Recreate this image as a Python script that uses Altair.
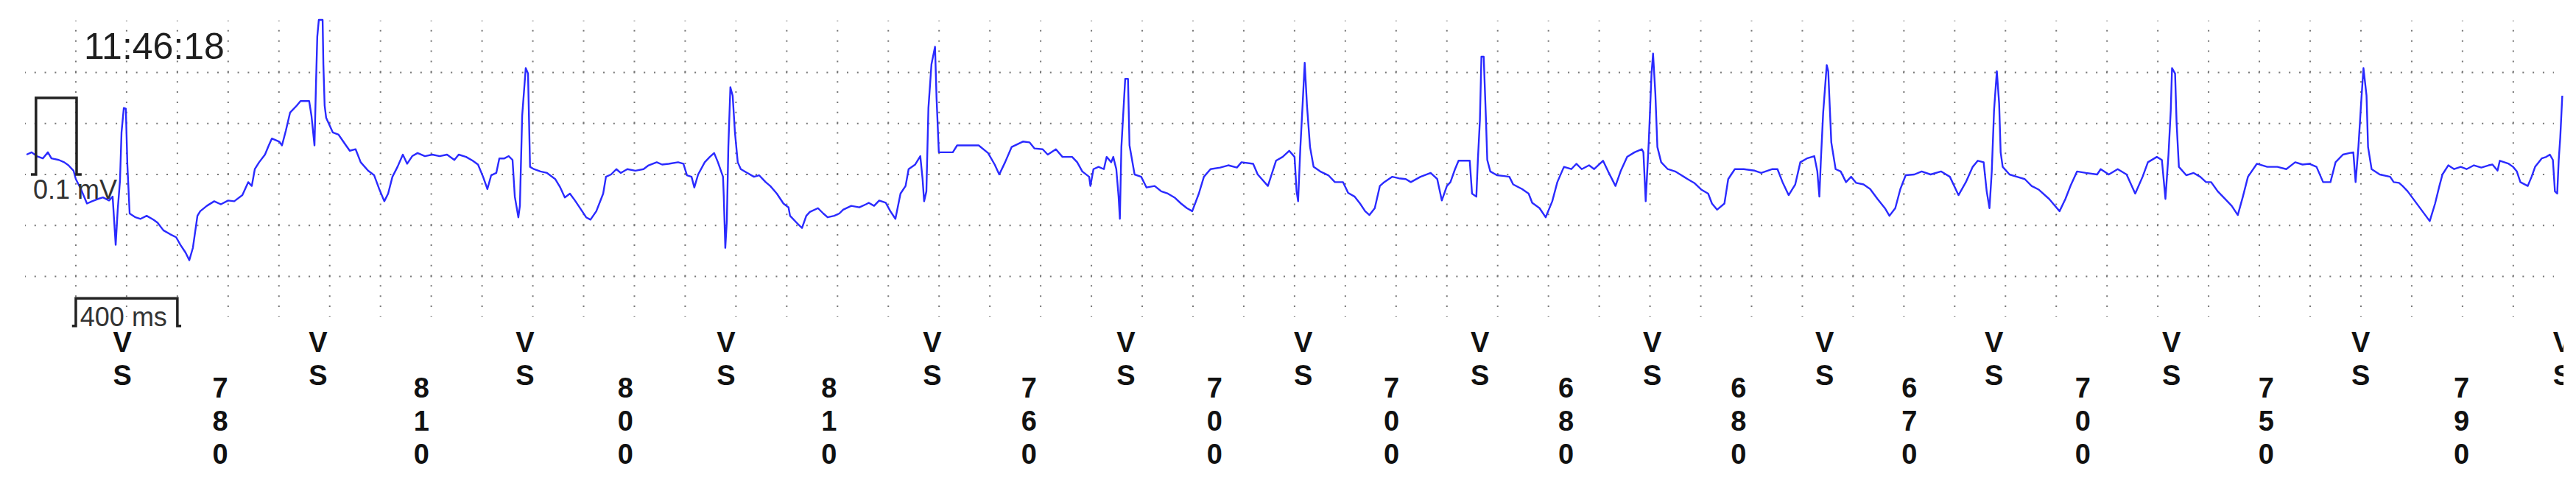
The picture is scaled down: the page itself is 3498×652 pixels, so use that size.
import altair as alt
import pandas as pd

# ECG strip: time in ms (0 = left edge of the grid), amplitude in microvolts
T_MS = [
    6, 26, 46, 70, 90, 104, 133, 154, 171, 191,
    200, 220, 244, 264, 287, 307, 331, 345, 357, 365,
    374, 380, 389, 397, 403, 412, 435, 455, 479, 505,
    522, 545, 571, 595, 612, 632, 647, 661, 679, 690,
    716, 745, 771, 800, 824, 856, 879, 893, 905, 922,
    945, 960, 972, 1001, 1012, 1027, 1044, 1070, 1085, 1119,
    1128, 1140, 1146, 1151, 1157, 1172, 1175, 1180, 1186, 1212,
    1235, 1264, 1279, 1302, 1322, 1351, 1375, 1395, 1415, 1430,
    1447, 1467, 1488, 1505, 1525, 1546, 1575, 1604, 1633, 1662,
    1691, 1708, 1737, 1763, 1784, 1804, 1821, 1836, 1856, 1868,
    1888, 1905, 1920, 1929, 1943, 1949, 1958, 1972, 1981, 1989,
    2004, 2030, 2056, 2088, 2108, 2126, 2146, 2166, 2184, 2210,
    2227, 2250, 2277, 2288, 2308, 2329, 2346, 2372, 2404, 2436,
    2456, 2488, 2509, 2535, 2572, 2593, 2607, 2625, 2636, 2651,
    2677, 2697, 2714, 2729, 2749, 2752, 2758, 2764, 2770, 2778,
    2787, 2796, 2807, 2819, 2845, 2871, 2891, 2917, 2935, 2961,
    2987, 3007, 3013, 3039, 3060, 3077, 3091, 3123, 3144, 3161,
    3187, 3207, 3222, 3254, 3286, 3312, 3323, 3344, 3364, 3390,
    3408, 3428, 3448, 3468, 3480, 3506, 3526, 3535, 3541, 3550,
    3558, 3570, 3584, 3590, 3599, 3622, 3654, 3671, 3709, 3756,
    3793, 3819, 3837, 3860, 3886, 3930, 3956, 3976, 4008, 4028,
    4060, 4086, 4124, 4144, 4164, 4191, 4196, 4208, 4228, 4249,
    4260, 4278, 4286, 4298, 4307, 4312, 4318, 4333, 4344, 4350,
    4370, 4396, 4417, 4449, 4475, 4501, 4527, 4553, 4576, 4597,
    4623, 4643, 4669, 4707, 4739, 4773, 4791, 4837, 4855, 4895,
    4927, 4953, 4979, 5000, 5008, 5014, 5023, 5032, 5040, 5049,
    5061, 5075, 5101, 5133, 5159, 5191, 5211, 5237, 5258, 5278,
    5295, 5316, 5336, 5353, 5385, 5411, 5438, 5458, 5496, 5536,
    5562, 5580, 5600, 5614, 5632, 5646, 5690, 5699, 5716, 5722,
    5730, 5736, 5745, 5754, 5759, 5771, 5797, 5826, 5846, 5861,
    5896, 5922, 5936, 5965, 5989, 6015, 6035, 6061, 6090, 6110,
    6131, 6160, 6180, 6215, 6235, 6264, 6284, 6310, 6339, 6368,
    6374, 6383, 6395, 6406, 6412, 6421, 6429, 6444, 6470, 6499,
    6519, 6548, 6574, 6603, 6629, 6644, 6664, 6693, 6708, 6734,
    6769, 6812, 6838, 6882, 6902, 6922, 6946, 6972, 6992, 7018,
    7047, 7059, 7067, 7073, 7082, 7096, 7102, 7114, 7131, 7151,
    7172, 7192, 7212, 7241, 7267, 7296, 7325, 7343, 7366, 7386,
    7407, 7441, 7470, 7505, 7546, 7581, 7615, 7644, 7671, 7691,
    7714, 7726, 7737, 7746, 7755, 7766, 7775, 7781, 7789, 7816,
    7845, 7876, 7903, 7932, 7972, 8013, 8036, 8056, 8082, 8117,
    8161, 8175, 8207, 8242, 8277, 8311, 8340, 8361, 8396, 8416,
    8430, 8442, 8451, 8456, 8468, 8474, 8483, 8512, 8541, 8567,
    8590, 8610, 8636, 8671, 8691, 8715, 8735, 8755, 8790, 8831,
    8871, 8906, 8941, 8970, 8996, 9025, 9051, 9080, 9100, 9129,
    9155, 9170, 9179, 9190, 9202, 9210, 9222, 9228, 9242, 9274,
    9315, 9329, 9350, 9364, 9384, 9413, 9442, 9471, 9492, 9509,
    9521, 9544, 9567, 9593, 9616, 9645, 9674, 9703, 9718, 9738,
    9747, 9782, 9799, 9814, 9828, 9857, 9872, 9886, 9912, 9930,
    9944, 9956, 9964, 9973, 9979, 9985, 9993,
]

V_UV = [
    26, 29, 24, 21, 29, 21, 19, 16, 12, 5,
    -6, -19, -38, -35, -32, -30, -34, -29, -92, -46,
    -8, 55, 87, 86, 13, -51, -56, -58, -54, -59,
    -63, -73, -78, -82, -92, -102, -112, -96, -54, -48,
    -41, -35, -39, -34, -35, -27, -10, -15, 7, 16,
    26, 38, 47, 43, 38, 57, 81, 90, 96, 96,
    77, 38, 119, 180, 202, 202, 144, 90, 74, 55,
    52, 38, 31, 33, 16, 5, -1, -19, -35, -25,
    -3, 10, 26, 14, 24, 28, 24, 26, 24, 26,
    19, 26, 23, 18, 13, -3, -19, -1, 2, 21,
    21, 24, 19, -29, -56, -41, 77, 139, 132, 10,
    7, 4, 2, -6, -17, -30, -25, -34, -43, -56,
    -59, -48, -25, -3, 0, 7, 2, 7, 5, 7,
    12, 16, 13, 14, 16, 14, -1, -3, -17, 0,
    16, 23, 28, 16, -3, -29, -96, -61, 36, 114,
    103, 55, 16, 7, 2, -3, -1, -10, -15, -25,
    -38, -43, -54, -63, -70, -54, -49, -44, -51, -56,
    -54, -51, -46, -41, -43, -39, -37, -41, -34, -37,
    -48, -58, -25, -15, 7, 13, 24, -6, -35, -22,
    87, 144, 167, 100, 29, 29, 29, 38, 38, 38,
    28, 13, 0, 16, 36, 43, 42, 34, 33, 26,
    33, 23, 23, 16, 4, -3, -15, 7, 10, 7,
    23, 16, 23, 7, -29, -58, 36, 125, 125, 38,
    0, -3, -17, -15, -22, -25, -30, -38, -44, -48,
    -25, -3, 7, 9, 12, 9, 16, 14, 0, -15,
    18, 23, 31, 23, -22, -35, 36, 93, 146, 90,
    36, 10, 4, -1, -10, -10, -24, -29, -38, -48,
    -53, -44, -15, -10, -3, -5, -6, -10, -3, 2,
    -6, -34, -15, -10, 7, 18, 18, -25, -29, 19,
    71, 154, 154, 71, 19, 4, -1, -2, -3, -13,
    -19, -25, -37, -44, -56, -35, -10, 10, 7, 14,
    7, 12, 7, 18, 4, -15, 4, 23, 29, 33,
    29, -35, 42, 132, 158, 106, 36, 16, 7, 4,
    0, -6, -11, -20, -25, -38, -46, -38, -6, 7,
    7, 5, 2, 7, 7, -10, -27, -13, 16, 21,
    24, 4, -29, 19, 81, 143, 135, 42, 7, 4,
    -10, -3, -11, -13, -19, -32, -44, -54, -44, -19,
    -1, 0, 4, 0, 4, -3, -27, -10, 10, 18,
    16, -22, -44, 4, 84, 135, 93, 29, 10, 0,
    -3, -6, -15, -20, -32, -48, -32, -15, 4, 2,
    0, 7, 0, 7, 0, -25, -3, 16, 23, 19,
    -32, 26, 84, 139, 132, 67, 10, -1, 2, -3,
    -10, -10, -22, -34, -41, -53, -29, -3, 14, 10,
    10, 7, 16, 13, 14, 10, -10, -10, 16, 26,
    28, 29, -10, 36, 100, 139, 103, 36, 7, 0,
    -3, -10, -11, -15, -22, -35, -48, -61, -38, -15,
    0, 12, 7, 10, 7, 12, 9, 12, 13, 5,
    18, 14, 10, 4, -10, -15, -3, 10, 21, 23,
    26, 19, -22, -25, 19, 48, 103,
]

# Ventricular sense markers (ms) and the RR intervals printed between them
VS_MS = [383, 1154, 1969, 2761, 3573, 4336, 5034, 5730, 6409, 7088, 7755, 8454, 9199, 9993]
VS_LABEL = "V\nS"
RR_MS = [780, 810, 800, 810, 760, 700, 700, 680, 680, 670, 700, 750, 790]

# Annotations
TIMESTAMP = "11:46:18"
TIMESTAMP_T, TIMESTAMP_V = 232, 151
CAL_T = [23, 43, 43, 203, 203, 223]          # 0.1 mV calibration pulse
CAL_V = [0, 0, 100, 100, 0, 0]
CAL_LABEL, CAL_LABEL_T, CAL_LABEL_V = "0.1 mV", 32, -32
BAR_T = [185, 200, 200, 600, 600, 615]       # 400 ms time bar
BAR_V = [-198, -198, -162, -162, -198, -198]
BAR_LABEL, BAR_LABEL_T, BAR_LABEL_V = "400 ms", 217, -198

GRID_X = list(range(200, 9801, 200))                 # 200 ms squares
GRID_Y = [-133.33, -66.67, 0, 66.67, 133.33]         # 1/15 mV squares

FONT = "Liberation Sans"
W, H = 3434, 402

trace_df = pd.DataFrame({"t": T_MS, "v": V_UV})
scale_df = pd.DataFrame({
    "t": CAL_T + BAR_T,
    "v": CAL_V + BAR_V,
    "shape": ["cal"] * len(CAL_T) + ["bar"] * len(BAR_T),
    "i": list(range(len(CAL_T))) + list(range(len(BAR_T))),
})
vs_df = pd.DataFrame({"t": VS_MS, "label": [VS_LABEL] * len(VS_MS)})
rr_df = pd.DataFrame({
    "t": [(VS_MS[k] + VS_MS[k + 1]) / 2 for k in range(len(RR_MS))],
    "label": ["\n".join(str(r)) for r in RR_MS],
})
ts_df = pd.DataFrame({"t": [TIMESTAMP_T], "v": [TIMESTAMP_V], "label": [TIMESTAMP]})
cal_lbl_df = pd.DataFrame({"t": [CAL_LABEL_T], "v": [CAL_LABEL_V], "label": [CAL_LABEL]})
bar_lbl_df = pd.DataFrame({"t": [BAR_LABEL_T], "v": [BAR_LABEL_V], "label": [BAR_LABEL]})
gx_df = pd.DataFrame({"t": GRID_X})
gy_df = pd.DataFrame({"v": GRID_Y})

x_scale = alt.Scale(domain=[0, 9960], nice=False, zero=False)
y_scale = alt.Scale(domain=[-185.7, 201.1], nice=False, zero=False)

X = alt.X("t:Q", scale=x_scale, axis=None)
Y = alt.Y("v:Q", scale=y_scale, axis=None)

GRID_COLOR = "#767676"

grid_v = alt.Chart(gx_df).mark_rule(
    color=GRID_COLOR, strokeWidth=2, strokeDash=[2, 11.86], strokeDashOffset=1
).encode(x=X, y=alt.value(0), y2=alt.value(H))

grid_h = alt.Chart(gy_df).mark_rule(
    color=GRID_COLOR, strokeWidth=2, strokeDash=[2, 11.79], strokeDashOffset=1
).encode(y=Y, x=alt.value(0), x2=alt.value(W))

trace = alt.Chart(trace_df).mark_line(
    color="#2a2aff", strokeWidth=2.4, strokeJoin="round"
).encode(x=X, y=Y)

scales = alt.Chart(scale_df).mark_line(color="#222222", strokeWidth=3.5).encode(
    x=X, y=Y, detail="shape:N", order=alt.Order("i:Q"),
)

def label_layer(df, size, color):
    return alt.Chart(df).mark_text(
        align="left", baseline="alphabetic", fontSize=size, font=FONT, color=color,
    ).encode(x=X, y=Y, text="label:N")

ts = label_layer(ts_df, 50, "#1e1e1e")
cal_lbl = label_layer(cal_lbl_df, 36, "#333333")
bar_lbl = label_layer(bar_lbl_df, 36, "#333333")

def marker_layer(df, ypix):
    return alt.Chart(df).mark_text(
        align="center", baseline="alphabetic", fontSize=38, fontWeight="bold",
        font=FONT, color="#111111", lineBreak="\n", lineHeight=45,
    ).encode(x=X, y=alt.value(ypix), text="label:N")

vs = marker_layer(vs_df, 450)
rr = marker_layer(rr_df, 512)

chart = alt.layer(grid_v, grid_h, trace, scales, ts, cal_lbl, bar_lbl, vs, rr).properties(
    width=W,
    height=H,
    autosize=alt.AutoSizeParams(type="none"),
    padding={"left": 26, "top": 20, "right": 13, "bottom": 222},
    background="white",
).configure_view(strokeWidth=0)

chart.save("out.html", embed_options={"renderer": "svg", "actions": False})
